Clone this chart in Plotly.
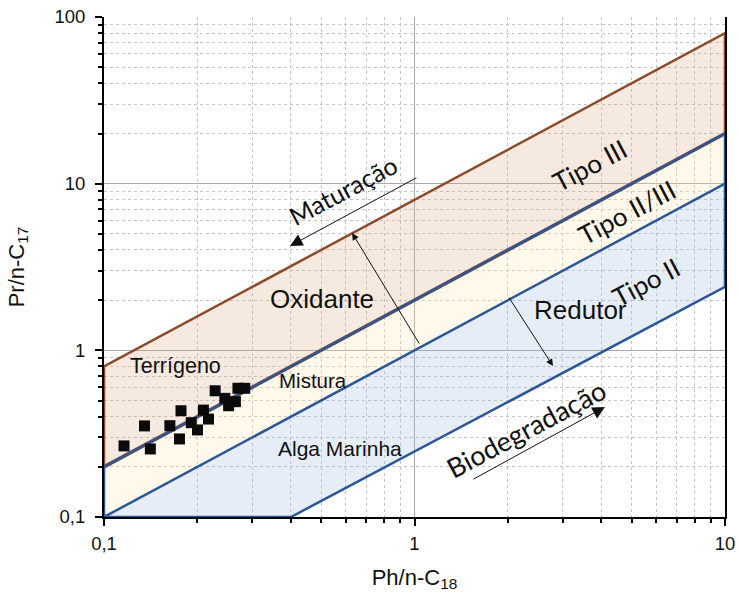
import plotly.graph_objects as go

# ---- boundary lines of the diagram (endpoints) ----
x_edge = [0.1, 10]
y_oxid_top = [0.8, 80]       # upper limit (Terrígeno / Oxidante)
y_oxid_bottom = [0.2, 20]    # Oxidante / Mistura limit
y_mist_bottom = [0.1, 10]    # Mistura / Redutor limit
x_alga_bottom = [0.4, 10]    # lower limit of Redutor field
y_alga_bottom = [0.1, 2.4]

# ---- samples ----
ph_nc18 = [0.116, 0.135, 0.141, 0.163, 0.177, 0.175, 0.191, 0.200,
           0.209, 0.217, 0.228, 0.245, 0.252, 0.265, 0.270, 0.284]
pr_nc17 = [0.267, 0.352, 0.256, 0.353, 0.434, 0.294, 0.368, 0.333,
           0.438, 0.387, 0.572, 0.515, 0.465, 0.492, 0.592, 0.592]

# ---- tick labels ----
x_tickvals = [0.1, 1, 10]
x_ticktext = ["0,1", "1", "10"]
y_tickvals = [0.1, 1, 10, 100]
y_ticktext = ["0,1", "1", "10", "100"]
x_minor = [m * d for d in (0.1, 1) for m in range(2, 10)]
y_minor = [m * d for d in (0.1, 1, 10) for m in range(2, 10)]

BROWN = "#8c4a2a"
BLUE = "#2c5796"

fig = go.Figure()

# fills
fig.add_trace(go.Scatter(
    x=[x_edge[0], x_edge[1], x_edge[1], x_edge[0], x_edge[0]],
    y=[y_oxid_top[0], y_oxid_top[1], y_oxid_bottom[1], y_oxid_bottom[0], y_oxid_top[0]],
    fill="toself", fillcolor="rgba(222,170,135,0.26)", mode="none",
    hoverinfo="skip", showlegend=False))
fig.add_trace(go.Scatter(
    x=[x_edge[0], x_edge[1], x_edge[1], x_edge[0], x_edge[0]],
    y=[y_oxid_bottom[0], y_oxid_bottom[1], y_mist_bottom[1], y_mist_bottom[0], y_oxid_bottom[0]],
    fill="toself", fillcolor="rgba(255,228,175,0.25)", mode="none",
    hoverinfo="skip", showlegend=False))
fig.add_trace(go.Scatter(
    x=[x_edge[0], x_edge[1], x_alga_bottom[1], x_alga_bottom[0], x_edge[0]],
    y=[y_mist_bottom[0], y_mist_bottom[1], y_alga_bottom[1], y_alga_bottom[0], y_mist_bottom[0]],
    fill="toself", fillcolor="rgba(160,185,225,0.25)", mode="none",
    hoverinfo="skip", showlegend=False))

# brown outline of Oxidante field
fig.add_trace(go.Scatter(
    x=[x_edge[0], x_edge[0], x_edge[1], x_edge[1]],
    y=[y_oxid_bottom[0], y_oxid_top[0], y_oxid_top[1], y_oxid_bottom[1]],
    mode="lines", line=dict(color=BROWN, width=2.5), hoverinfo="skip", showlegend=False))
fig.add_trace(go.Scatter(
    x=x_edge, y=y_oxid_bottom, mode="lines",
    line=dict(color=BROWN, width=3.6), hoverinfo="skip", showlegend=False))
# blue lines
fig.add_trace(go.Scatter(
    x=x_edge, y=y_oxid_bottom, mode="lines",
    line=dict(color=BLUE, width=2.5), hoverinfo="skip", showlegend=False))
fig.add_trace(go.Scatter(
    x=[x_edge[1], x_edge[1], x_edge[0], x_edge[0]],
    y=[y_oxid_bottom[1], y_mist_bottom[1], y_mist_bottom[0], y_oxid_bottom[0]],
    mode="lines", line=dict(color=BLUE, width=2.5), hoverinfo="skip", showlegend=False))
fig.add_trace(go.Scatter(
    x=[x_edge[0], x_alga_bottom[0], x_alga_bottom[1], x_edge[1]],
    y=[y_mist_bottom[0], y_alga_bottom[0], y_alga_bottom[1], y_mist_bottom[1]],
    mode="lines", line=dict(color=BLUE, width=2.5), hoverinfo="skip", showlegend=False))

# samples
fig.add_trace(go.Scatter(
    x=ph_nc18, y=pr_nc17, mode="markers",
    marker=dict(symbol="square", size=11, color="#0a0a0a"),
    showlegend=False))

ARIAL = "Liberation Sans"
CAL = "Lato"
ann = []

def label(lx, ly, text, size, font=ARIAL, angle=0):
    ann.append(dict(x=lx, y=ly, xref="x", yref="y", text=text, showarrow=False,
                    textangle=angle, font=dict(family=font, size=size, color="#111")))

label(-0.771, -0.094, "Terrígeno", 21.5)
label(-0.327, -0.178, "Mistura", 20.5)
label(-0.240, -0.586, "Alga Marinha", 21)
label(-0.298, 0.308, "Oxidante", 26)
label(0.536, 0.242, "Redutor", 26)
label(0.565, 1.112, "Tipo III", 26, CAL, -28)
label(0.684, 0.830, "Tipo II/III", 26, CAL, -28)
label(0.745, 0.410, "Tipo II", 26, CAL, -28)
label(-0.230, 0.962, "Maturação", 25, CAL, -28)
label(0.360, -0.466, "Biodegradação", 27, CAL, -28)

def arrow(hx, hy, tx, ty, head, size, width):
    ann.append(dict(x=hx, y=hy, ax=tx, ay=ty, xref="x", yref="y", axref="x", ayref="y",
                    text="", showarrow=True, arrowhead=head, arrowsize=size,
                    arrowwidth=width, arrowcolor="#111"))

arrow(-0.401, 0.626, 0.011, 1.040, 2, 2.5, 1)
arrow(0.6135, -0.340, 0.185, -0.778, 2, 2.5, 1)
arrow(-0.201, 0.704, 0.018, 0.032, 2, 1.4, 1)
arrow(0.446, -0.094, 0.301, 0.326, 2, 1.4, 1)

axis_common = dict(
    type="log", showline=True, linecolor="black", linewidth=2,
    ticks="outside", ticklen=7, tickwidth=1.5, tickcolor="black",
    showgrid=True, gridcolor="#a8a8a8", gridwidth=1,
    tickfont=dict(family=ARIAL, size=18.5, color="#111"),
    tickmode="array", automargin=False,
)

fig.update_layout(
    width=739, height=598,
    margin=dict(l=104, r=14, t=17, b=81),
    paper_bgcolor="white", plot_bgcolor="white",
    annotations=ann,
    xaxis=dict(axis_common, range=[-1, 1], tickvals=x_tickvals, ticktext=x_ticktext,
               ticklabelstandoff=2,
               minor=dict(tickmode="array", tickvals=x_minor, ticks="outside", ticklen=4,
                          tickcolor="black", showgrid=True, gridcolor="#c4c4c4",
                          griddash="dot", gridwidth=1),
               title=dict(text="Ph/n-C<sub>18</sub>", standoff=16,
                          font=dict(family=ARIAL, size=22, color="#111"))),
    yaxis=dict(axis_common, range=[-1, 2], tickvals=y_tickvals, ticktext=y_ticktext,
               mirror=True, ticklabelstandoff=6,
               minor=dict(tickmode="array", tickvals=y_minor, ticks="outside", ticklen=4,
                          tickcolor="black", showgrid=True, gridcolor="#c4c4c4",
                          griddash="dot", gridwidth=1),
               title=dict(text="Pr/n-C<sub>17</sub>", standoff=24,
                          font=dict(family=ARIAL, size=22, color="#111"))),
)

fig.write_html("out.html")
